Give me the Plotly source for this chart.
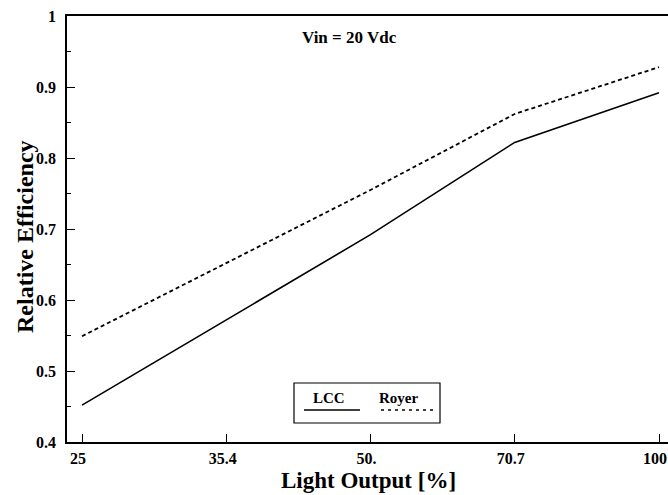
import plotly.graph_objects as go
import math

light_output = [25, 35.4, 50, 70.7, 100]
lcc = [0.452, 0.572, 0.692, 0.822, 0.892]
royer = [0.549, 0.652, 0.755, 0.862, 0.928]
x_tick_vals = [25, 35.4, 50, 70.7, 100]
x_tick_text = ["25", "35.4", "50.", "70.7", "100"]

W, H = 668, 495
L, R, T, B = 67, 0, 16, 53
pw, ph = W - L - R, H - T - B

def px(x):
    return (x - L) / pw

def py(y):
    return (H - B - y) / ph

serif = "Liberation Serif, Times New Roman, serif"

fig = go.Figure()
fig.add_trace(go.Scatter(x=light_output, y=lcc, mode="lines", name="LCC",
                         line=dict(color="black", width=1.6)))
fig.add_trace(go.Scatter(x=light_output, y=royer, mode="lines", name="Royer",
                         line=dict(color="black", width=1.8, dash="4px,3px")))

x0 = math.log10(25) - 15 / 958
x1 = 2 + 9 / 958

fig.update_layout(
    width=W, height=H,
    margin=dict(l=L, r=R, t=T, b=B, autoexpand=False),
    paper_bgcolor="white", plot_bgcolor="white",
    showlegend=False,
    font=dict(family=serif, color="black"),
    xaxis=dict(type="log", range=[x0, x1], tickvals=x_tick_vals, ticktext=x_tick_text,
               ticks="inside", ticklen=8, tickcolor="black", showgrid=False, zeroline=False,
               showline=True, linecolor="black", linewidth=1.5, mirror=True,
               automargin=False, ticklabelshift=-4, ticklabelstandoff=1,
               tickfont=dict(family=serif, size=16, color="black", weight="bold")),
    yaxis=dict(range=[0.4, 1.0], dtick=0.1, tick0=0.4,
               ticks="inside", ticklen=8, tickcolor="black", showgrid=False, zeroline=False,
               showline=True, linecolor="black", linewidth=1.5, mirror=False,
               automargin=False, ticklabelstandoff=6,
               minor=dict(dtick=0.05, ticks="inside", ticklen=4, tickcolor="black"),
               tickfont=dict(family=serif, size=16, color="black", weight="bold")),
)

fig.add_annotation(text="Light Output [%]", xref="paper", yref="paper", x=px(368), y=py(480),
                   xanchor="center", yanchor="middle",
                   showarrow=False, font=dict(family=serif, size=23, color="black", weight="bold"))
fig.add_annotation(text="Relative Efficiency", xref="paper", yref="paper", x=px(25), y=py(237),
                   xanchor="center", yanchor="middle", textangle=-90, showarrow=False,
                   font=dict(family=serif, size=24, color="black", weight="bold"))

fig.add_annotation(text="Vin = 20 Vdc", xref="paper", yref="paper", x=px(349), y=py(38),
                   xanchor="center", yanchor="middle",
                   showarrow=False, font=dict(family=serif, size=17, color="black", weight="bold"))

# custom legend box
fig.add_shape(type="rect", xref="paper", yref="paper", x0=px(294), x1=px(440), y0=py(423), y1=py(383),
              line=dict(color="black", width=1.2), fillcolor="white")
fig.add_shape(type="line", xref="paper", yref="paper", x0=px(304), x1=px(360), y0=py(410), y1=py(410),
              line=dict(color="black", width=1.6))
fig.add_shape(type="line", xref="paper", yref="paper", x0=px(381), x1=px(436), y0=py(410), y1=py(410),
              line=dict(color="black", width=1.6, dash="3px,4px"))
fig.add_annotation(text="LCC", xref="paper", yref="paper", x=px(329), y=py(398), showarrow=False,
                   xanchor="center", yanchor="middle",
                   font=dict(family=serif, size=15, color="black", weight="bold"))
fig.add_annotation(text="Royer", xref="paper", yref="paper", x=px(398), y=py(398), showarrow=False,
                   xanchor="center", yanchor="middle",
                   font=dict(family=serif, size=15, color="black", weight="bold"))

fig.write_html("out.html", config={"displayModeBar": False},
               post_script="document.body.style.margin='0';")
